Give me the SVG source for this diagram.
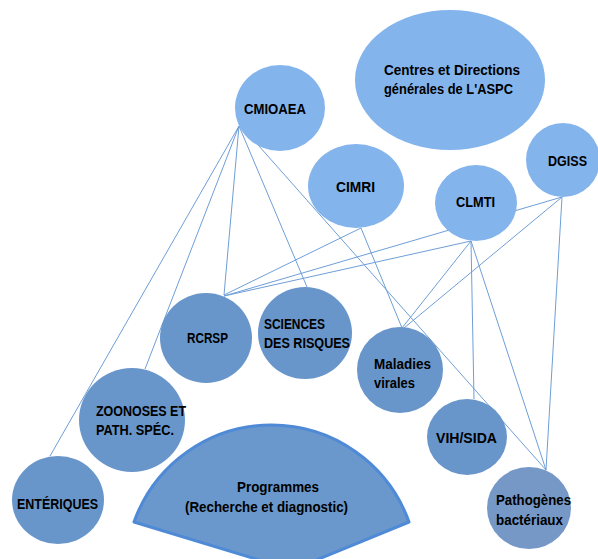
<svg xmlns="http://www.w3.org/2000/svg" width="598" height="559" viewBox="0 0 598 559">
<style>
.top{fill:#84b4ec}
.bot{fill:#6896ca}
.path{fill:#7598c6}
.t{font-family:"Liberation Sans",Arial,sans-serif;font-weight:bold;font-size:14.5px;fill:#000}
.c line{stroke:#6e9ed8;stroke-width:1}
</style>
<rect width="598" height="559" fill="#fff"/>
<g id="connectors" class="c">
<line x1="239" y1="126" x2="50" y2="456"/>
<line x1="239" y1="126" x2="145" y2="369"/>
<line x1="239" y1="126" x2="224" y2="295"/>
<line x1="239" y1="126" x2="307" y2="287"/>
<line x1="243" y1="128" x2="546" y2="470"/>
<line x1="361" y1="228" x2="224" y2="295"/>
<line x1="361" y1="228" x2="402" y2="328"/>
<line x1="471" y1="241" x2="224" y2="296"/>
<line x1="562" y1="197" x2="224" y2="296"/>
<line x1="471" y1="241" x2="402" y2="328"/>
<line x1="562" y1="197" x2="404" y2="328"/>
<line x1="471" y1="241" x2="474" y2="399"/>
<line x1="471" y1="241" x2="546" y2="470"/>
<line x1="562" y1="197" x2="546" y2="470"/>
</g>
<g id="centres">
<ellipse class="top" cx="450" cy="80" rx="95" ry="70"/>
<text class="t" x="384" y="74.5" textLength="136" lengthAdjust="spacingAndGlyphs">Centres et Directions</text>
<text class="t" x="384" y="93.5" textLength="129" lengthAdjust="spacingAndGlyphs">générales de L'ASPC</text>
</g>
<g id="cmioaea">
<ellipse class="top" cx="280" cy="108" rx="45" ry="43"/>
<text class="t" x="244" y="113.5" textLength="62" lengthAdjust="spacingAndGlyphs">CMIOAEA</text>
</g>
<g id="cimri">
<ellipse class="top" cx="356" cy="186" rx="48" ry="42"/>
<text class="t" x="336" y="191.5" textLength="39" lengthAdjust="spacingAndGlyphs">CIMRI</text>
</g>
<g id="clmti">
<ellipse class="top" cx="476" cy="203" rx="41" ry="38"/>
<text class="t" x="456" y="206.5" textLength="39" lengthAdjust="spacingAndGlyphs">CLMTI</text>
</g>
<g id="dgiss">
<ellipse class="top" cx="563" cy="160" rx="37" ry="37"/>
<text class="t" x="548" y="165.5" textLength="39" lengthAdjust="spacingAndGlyphs">DGISS</text>
</g>
<g id="rcrsp">
<ellipse class="bot" cx="206" cy="338" rx="46" ry="45"/>
<text class="t" x="187" y="342.5" textLength="41" lengthAdjust="spacingAndGlyphs">RCRSP</text>
</g>
<g id="sciences">
<ellipse class="bot" cx="305" cy="333" rx="47" ry="46"/>
<text class="t" x="264" y="328.5" textLength="61" lengthAdjust="spacingAndGlyphs">SCIENCES</text>
<text class="t" x="264" y="347.5" textLength="86" lengthAdjust="spacingAndGlyphs">DES RISQUES</text>
</g>
<g id="maladies">
<ellipse class="bot" cx="400" cy="370" rx="43" ry="43"/>
<text class="t" x="374" y="368.5" textLength="57" lengthAdjust="spacingAndGlyphs">Maladies</text>
<text class="t" x="374" y="387.5" textLength="41" lengthAdjust="spacingAndGlyphs">virales</text>
</g>
<g id="vih">
<ellipse class="bot" cx="467" cy="437" rx="40" ry="38"/>
<text class="t" x="436" y="442.5" textLength="61" lengthAdjust="spacingAndGlyphs">VIH/SIDA</text>
</g>
<g id="pathogenes">
<ellipse class="path" cx="529" cy="508" rx="42" ry="41"/>
<text class="t" x="496" y="504.5" textLength="75" lengthAdjust="spacingAndGlyphs">Pathogènes</text>
<text class="t" x="496" y="524.5" textLength="67" lengthAdjust="spacingAndGlyphs">bactériaux</text>
</g>
<g id="zoonoses">
<ellipse class="bot" cx="132" cy="420" rx="53" ry="52"/>
<text class="t" x="96" y="415.5" textLength="90" lengthAdjust="spacingAndGlyphs">ZOONOSES ET</text>
<text class="t" x="96" y="434.5" textLength="78" lengthAdjust="spacingAndGlyphs">PATH. SPÉC.</text>
</g>
<g id="enteriques">
<ellipse class="bot" cx="58" cy="500" rx="46" ry="44"/>
<text class="t" x="17" y="508.5" textLength="81" lengthAdjust="spacingAndGlyphs">ENTÉRIQUES</text>
</g>
<g id="programmes">
<path d="M134 522 A146 146 0 0 1 409 522 L292 570 Z" fill="#6a98cc" stroke="#4f8ad6" stroke-width="3" stroke-linejoin="round"/>
<text class="t" x="237" y="491.5" textLength="82" lengthAdjust="spacingAndGlyphs">Programmes</text>
<text class="t" x="185" y="511.5" textLength="163" lengthAdjust="spacingAndGlyphs">(Recherche et diagnostic)</text>
</g>
</svg>
